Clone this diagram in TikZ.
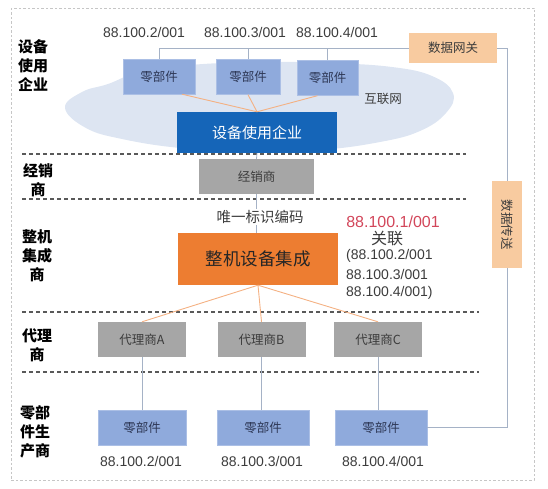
\documentclass[tikz,border=0pt]{standalone}
\usepackage{fontspec}
\setmainfont{Liberation Sans}
\newfontfamily\cjk{Noto Sans CJK SC}
\usetikzlibrary{shapes,calc}

\definecolor{partblue}{RGB}{143,170,220}
\definecolor{parttext}{RGB}{45,55,85}
\definecolor{corpblue}{RGB}{21,101,184}
\definecolor{dealgray}{RGB}{166,166,166}
\definecolor{oemorange}{RGB}{237,125,49}
\definecolor{gatepeach}{RGB}{248,203,160}
\definecolor{cloudblue}{RGB}{221,229,242}
\definecolor{linkorange}{RGB}{244,177,131}
\definecolor{linkgray}{RGB}{165,178,198}
\definecolor{idred}{RGB}{210,70,90}
\definecolor{txtgray}{RGB}{60,60,60}

\begin{document}
\begin{tikzpicture}[x=1pt,y=-1pt,inner sep=0pt]
\tikzstyle{part}=[rectangle,fill=partblue,draw=partblue!75!white,text=parttext,minimum height=35pt,font=\cjk\fontsize{12.5}{14}\selectfont]
\tikzstyle{agent}=[rectangle,fill=dealgray,text=txtgray,minimum height=35pt,minimum width=88pt,font=\cjk\fontsize{12.5}{14}\selectfont]
\tikzstyle{peach}=[rectangle,fill=gatepeach,text=txtgray,font=\cjk\fontsize{12.5}{14}\selectfont]
\tikzstyle{code}=[text=txtgray,font=\fontsize{14}{16}\selectfont]
\tikzstyle{tier}=[text=black,align=center,font=\cjk\bfseries\fontsize{15}{19}\selectfont]
\tikzstyle{layer}=[dash pattern=on 4pt off 3pt,line width=1.1pt,draw=black!65]
\tikzstyle{orangeline}=[draw=linkorange,line width=0.9pt]
\tikzstyle{grayline}=[draw=linkgray,line width=0.8pt]

\useasboundingbox (0,0) rectangle (548,489);
\draw[gray!45,dash pattern=on 2.5pt off 2pt,line width=0.8pt] (11,8) rectangle (534,480); % frame

% cloud
\fill[cloudblue] plot[smooth cycle,tension=0.7] coordinates {(65,108) (82,92) (108,84) (140,72) (190,65) (260,62)
  (330,63) (392,67) (432,76) (453,93) (446,113) (420,131) (380,142) (320,150) (250,152) (180,148) (122,139) (86,128)};

% tiers
\draw[layer] (22,154) -- (466,154);
\draw[layer] (22,199) -- (466,199);
\draw[layer] (22,312) -- (479,312);
\draw[layer] (22,372) -- (479,372);
\node[tier](t1) at (33,66) {设备\\使用\\企业};
\node[tier](t2) at (38,180) {经销\\商};
\node[tier](t3) at (37,256) {整机\\集成\\商};
\node[tier](t4) at (37,345) {代理\\商};
\node[tier](t5) at (35,432) {零部\\件生\\产商};

% user side
\node[part,minimum width=72pt](pa) at (159,76.5) {零部件};
\node[part,minimum width=64pt](pb) at (248,77) {零部件};
\node[part,minimum width=61pt](pc) at (327.5,78) {零部件};
\node[code](ca) at (144,32) {88.100.2/001};
\node[code](cb) at (245,32) {88.100.3/001};
\node[code](cc) at (337,32) {88.100.4/001};
\node[peach,minimum width=88pt,minimum height=30pt](gate) at (453,48) {数据网关};
\node[text=txtgray,font=\cjk\fontsize{12.5}{14}\selectfont](inet) at (383,99) {互联网};
\node[rectangle,fill=corpblue,text=white,minimum width=160pt,minimum height=41pt,font=\cjk\fontsize{15}{17}\selectfont](corp) at (257,132.5) {设备使用企业};

\draw[grayline] (pa.north) |- (gate.west)
      (pb.north) -- (pb.north |- gate.west)
      (pc.north) -- (pc.north |- gate.west);
\path ($(pa.south)+(23,0)$) edge[orangeline] (corp.north) % to user
      (pb.south) edge[orangeline] (corp.north)
      ($(pc.south)+(-10,0)$) edge[orangeline] (corp.north);

% dealer and integrator
\node[agent,minimum width=115pt](dealer) at (256.5,176.5) {经销商};
\node[rectangle,fill=oemorange,text=black!85,minimum width=160pt,minimum height=52pt,font=\cjk\fontsize{17.5}{20}\selectfont](oem) at (258,259) {整机设备集成};
\draw[grayline] (corp.south) -- (dealer.north);
\draw[grayline] (dealer.south) -- (dealer.south |- oem.north);
\node[fill=white,text=txtgray,inner sep=1pt,font=\cjk\fontsize{14.5}{16}\selectfont](uid) at (260,217) {唯一标识编码};

\node[text=idred,font=\fontsize{16}{18}\selectfont](root) at (393,222) {88.100.1/001};
\node[text=txtgray,font=\cjk\fontsize{16}{18}\selectfont](rel) at (387,239) {关联};
\node[code,anchor=west](r2) at (346,256) {(88.100.2/001};
\node[code,anchor=west](r3) at (346,274) {88.100.3/001};
\node[code,anchor=west](r4) at (346,293) {88.100.4/001)};

% agents and makers
\node[agent](aa) at (142,339.5) {代理商A};
\node[agent](ab) at (261.5,339.5) {代理商B};
\node[agent](ac) at (378,339.5) {代理商C};
\node[part,minimum width=88pt](la) at (142,427.5) {零部件};
\node[part,minimum width=92pt](lb) at (263,427.5) {零部件};
\node[part,minimum width=92pt](lc) at (381,427.5) {零部件};
\node[code](da) at (141,461) {88.100.2/001};
\node[code](db) at (262,461) {88.100.3/001};
\node[code](dc) at (383,461) {88.100.4/001};

\path (oem.south) edge[orangeline] (aa.north)
      (oem.south) edge[orangeline] (ab.north)
      (oem.south) edge[orangeline] (ac.north);
\draw[grayline] (aa.south) -- (aa.south |- la.north)
      (ab.south) -- (ab.south |- lb.north)
      (ac.south) -- (ac.south |- lc.north);

% data path
\coordinate (rb) at (507,427.5);
\draw[grayline] (gate.east) -| (rb) -- (lc.east);
\node[peach,rotate=-90,minimum width=87pt,minimum height=30pt](send) at (507,224.5) {数据传送};

\end{tikzpicture}
\end{document}
